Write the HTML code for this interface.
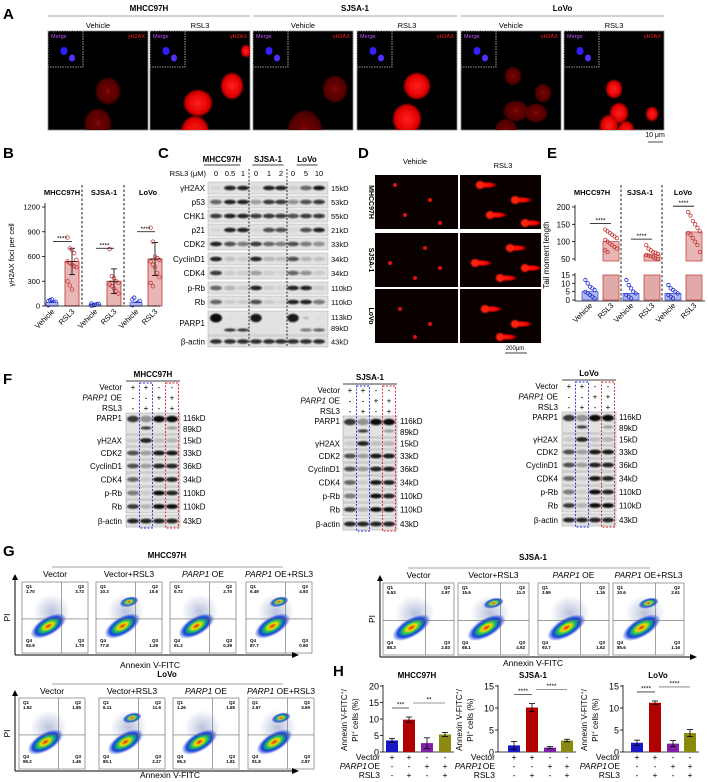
<!DOCTYPE html>
<html><head><meta charset="utf-8">
<style>
html,body{margin:0;padding:0;background:#fff;}
svg{display:block;font-family:"Liberation Sans",Arial,sans-serif;}
</style></head>
<body>
<svg id="fig" width="708" height="782" viewBox="0 0 708 782" xmlns="http://www.w3.org/2000/svg">
<defs id="defs">
<radialGradient id="nucBright"><stop offset="0" stop-color="#ff2020"/><stop offset="0.8" stop-color="#e00000"/><stop offset="1" stop-color="#900000"/></radialGradient>
<radialGradient id="nucDim"><stop offset="0" stop-color="#7a0808"/><stop offset="1" stop-color="#4a0000"/></radialGradient>
<radialGradient id="blob"><stop offset="0" stop-color="#e02000"/><stop offset="0.25" stop-color="#f0e000"/><stop offset="0.45" stop-color="#20c060"/><stop offset="0.7" stop-color="#1040e0"/><stop offset="1" stop-color="#2040d0" stop-opacity="0"/></radialGradient>
<radialGradient id="haze"><stop offset="0" stop-color="#8090c0" stop-opacity="0.55"/><stop offset="1" stop-color="#8090c0" stop-opacity="0"/></radialGradient>
<radialGradient id="comet"><stop offset="0" stop-color="#ff2010"/><stop offset="0.6" stop-color="#e00000"/><stop offset="1" stop-color="#800000" stop-opacity="0"/></radialGradient>
<filter id="bl" x="-50%" y="-50%" width="200%" height="200%"><feGaussianBlur stdDeviation="0.9"/></filter>
</defs>
</svg>
<script>
// ---------- data ----------
const cellLines = ["MHCC97H","SJSA-1","LoVo"];
// B: γH2AX foci per cell
const bVehicleMeans = [40, 15, 40];
const bRsl3Means = [540, 300, 570];
const bRsl3Sd = [160, 150, 200];
const bRsl3Dots = [
  [830,700,680,640,560,540,520,500,480,470,300,250,200],
  [690,360,340,300,280,260,240,210,180,150],
  [950,780,600,580,560,540,500,470,400,350,280,240]
];
const bVehDots = [[10,20,30,40,50,60,70,80],[5,10,15,20,25,30],[10,20,30,40,60,80,100]];
const bTicks = [0,300,600,900,1200];
// E: tail moment length
const eVehicleMeans = [5, 4, 4];
const eRsl3Means = [100, 62, 128];
const eRsl3Dots = [[135,130,125,120,115,110,105,100,95,90,85,80,75,70],[90,80,75,70,68,65,62,60,58,55,52,50],[185,175,160,150,140,130,125,120,110,100,90,70]];
const eVehDots = [[12,10,8,7,6,5,4,3,2,1],[12,9,7,5,4,3,2,1],[9,7,6,5,4,3,2,1]];
const eTicksUpper = [50,100,150,200];
const eTicksLower = [0,5,10,15];
// H: Annexin V-FITC+/PI+ cells (%)
const hCategories = ["Vector","Vector+RSL3","PARP1 OE","PARP1 OE+RSL3"];
const hValues = [[3.5,9.8,2.7,5.3],[1.5,10.1,1.0,2.6],[2.1,11.2,1.9,4.3]];
const hErrors = [[0.6,0.8,1.6,0.6],[0.9,0.9,0.25,0.3],[0.6,0.4,0.7,0.8]];
const hMax = [20,15,15];
const hTicks = [[0,5,10,15,20],[0,5,10,15],[0,5,10,15]];
const hSig = [["***","**"],["****","****"],["****","****"]];
// G: flow quadrant values [Q1,Q2,Q3,Q4]
const gQuads = {
 "MHCC97H":[["1.70","3.72","1.70","92.9"],["10.3","10.6","1.29","77.8"],["5.72","2.70","0.39","91.2"],["6.49","4.93","0.90","87.7"]],
 "SJSA-1":[["6.53","2.97","2.83","88.3"],["15.6","11.0","4.92","68.1"],["3.59","1.16","1.62","93.7"],["10.6","2.61","1.16","85.6"]],
 "LoVo":[["1.52","1.85","1.46","95.2"],["6.11","11.6","2.27","80.1"],["1.26","1.65","1.81","95.3"],["2.67","3.69","2.87","91.8"]]
};
// C: blot band intensities
const cRows = ["γH2AX","p53","CHK1","p21","CDK2","CyclinD1","CDK4","p-Rb","Rb","PARP1","β-actin"];
const cKd = ["15kD","53kD","55kD","21kD","33kD","34kD","34kD","110kD","110kD","113kD","43kD"];
const cInt = [
 [0.05,0.9,0.9,0.05,0.9,0.9,0.1,0.6,0.95],
 [0.6,0.9,0.9,0.3,0.8,0.8,0.4,0.7,0.8],
 [0.8,0.9,0.9,0.8,0.8,0.8,0.7,0.8,0.8],
 [0.05,0.9,0.9,0.05,0.7,0.7,0.05,0.7,0.9],
 [0.9,0.7,0.5,0.8,0.6,0.5,0.7,0.5,0.4],
 [0.9,0.15,0.1,0.9,0.2,0.15,0.7,0.2,0.15],
 [0.8,0.1,0.1,0.3,0.1,0.05,0.6,0.4,0.1],
 [0.6,0.2,0.1,0.9,0.1,0.05,0.9,0.9,0.1],
 [0.6,0.1,0.1,0.7,0.1,0.05,0.9,0.9,0.5],
 [1,0.05,0.05,0.95,0,0,0.95,0.2,0.05],
 [0.85,0.85,0.85,0.85,0.85,0.85,0.85,0.85,0.85]
];
const cParpLower = [0,0.8,0.8,0,0.5,0.3,0,0.5,0.6];
const cDoses = ["0","0.5","1","0","1","2","0","5","10"];
// F: blot band intensities
const fRows = ["PARP1","γH2AX","CDK2","CyclinD1","CDK4","p-Rb","Rb","β-actin"];
const fKd = ["15kD","33kD","36kD","34kD","110kD","110kD","43kD"];
const fInt = [[0.8,0.4,1,1],[0.1,0.9,0.15,0.2],[0.7,0.3,0.95,0.95],[0.7,0.3,0.9,0.9],[0.6,0.1,0.95,0.9],[0.5,0.1,1,0.9],[0.8,0.2,1,1],[0.9,0.9,0.9,0.9]];
const fParpLower = [0,0.8,0,0.3];

// ---------- helpers ----------
const svg = document.getElementById('fig');
const defs = document.getElementById('defs');
const NS = "http://www.w3.org/2000/svg";
function mk(tag, attrs, name, parent){
  const el = document.createElementNS(NS, tag);
  for (const k in attrs) el.setAttribute(k, attrs[k]);
  
  
  (parent||svg).appendChild(el);
  return el;
}
function txt(x,y,s,size,name,o){
  o=o||{};
  const a={x:x,y:y,'font-size':size,fill:o.fill||'#000','text-anchor':o.anchor||'middle'};
  if(o.bold) a['font-weight']='bold';
  if(o.italic) a['font-style']='italic';
  if(o.rot!==undefined) a.transform='rotate('+o.rot+' '+x+' '+y+')';
  const el=mk('text',a,name);
  el.textContent=s;
  return el;
}
function line(x1,y1,x2,y2,name,o){
  o=o||{};
  return mk('line',{x1:x1,y1:y1,x2:x2,y2:y2,stroke:o.stroke||'#000','stroke-width':o.w||0.8,'stroke-dasharray':o.dash||'none'},name);
}
function rect(x,y,w,h,name,o){
  o=o||{};
  return mk('rect',{x:x,y:y,width:w,height:h,fill:o.fill||'none',stroke:o.stroke||'none','stroke-width':o.w||0.8,'stroke-dasharray':o.dash||'none'},name);
}
let clipN=0;
function clipGroup(x,y,w,h,name){
  const id='clip'+(clipN++);
  const cp=mk('clipPath',{id:id},'clip-region',defs);
  mk('rect',{x:x,y:y,width:w,height:h},'clip-rect',cp);
  return mk('g',{'clip-path':'url(#'+id+')'},name);
}
function panelLabel(x,y,s){ txt(x,y,s,15,'panel-label-'+s.toLowerCase(),{bold:true,anchor:'start'}); }

// ---------- Panel A ----------
panelLabel(3,19,'A');
const aLeft=[48,150,253,357,461,564];
cellLines.forEach((c,i)=>{
  const x0=aLeft[i*2], x1=aLeft[i*2+1]+100;
  txt((x0+x1)/2,11,c,8,'a-title-'+c.toLowerCase(),{bold:true});
  line(x0,16,x1,16,'a-title-rule',{stroke:'#888'});
});
const aNuclei=[
 [[60,60,12,13],[50,92,13,14]],
 [[48,72,14,13],[45,102,14,17],[82,55,11,13],[96,20,5,6]],
 [[52,100,17,20],[82,58,12,13]],
 [[60,55,13,13],[50,88,14,15]],
 [[55,80,12,10],[45,100,11,12],[75,82,11,9],[52,45,8,9],[82,62,8,9]],
 [[50,58,8,9],[55,82,9,10],[45,95,9,11],[62,100,8,10],[88,83,6,7]]
];
aLeft.forEach((x,i)=>{
  const rsl=i%2===1;
  txt(x+50,28,rsl?'RSL3':'Vehicle',7.5,rsl?'a-rsl3-label':'a-vehicle-label');
  rect(x,31,100,99,'a-if-image',{fill:'#000',stroke:'#888'});
  const g=clipGroup(x,31,100,99,'a-image-content');
  aNuclei[i].forEach(n=>{
    mk('ellipse',{cx:x+n[0],cy:31+n[1],rx:n[2],ry:n[3],fill:rsl?'url(#nucBright)':'url(#nucDim)',filter:'url(#bl)'},'a-nucleus',g);
  });
  rect(x,31,35,36,'a-merge-inset',{fill:'#000',stroke:'#ccc',dash:'1.5 1'});
  txt(x+3,38,'Merge',5.5,'a-merge-label',{fill:'#c050ff',anchor:'start'});
  mk('ellipse',{cx:x+16,cy:51,rx:3.5,ry:4,fill:'#3020ff'},'a-merge-nucleus');
  mk('ellipse',{cx:x+24,cy:58,rx:3,ry:3.5,fill:'#5030ff'},'a-merge-nucleus');
  txt(x+97,38,'γH2AX',5.5,'a-gh2ax-label',{fill:'#ff2020',anchor:'end'});
});
txt(655,137,'10 μm',7,'a-scale-label');
line(648,142,663,142,'a-scale-bar',{stroke:'#888',w:1.5});

// ---------- Panel B ----------
panelLabel(3,158,'B');
const bY = v => 306 - v/1200*99;
const bVehX=[52,95,136], bRslX=[72,114,155];
line(45,203,45,306,'b-y-axis');
bTicks.forEach(t=>{ line(42,bY(t),45,bY(t),'b-y-tick'); txt(40,bY(t)+2.5,String(t),7.5,'b-y-tick-label',{anchor:'end'}); });
txt(14,255,'γH2AX foci per cell',7.5,'b-y-axis-title',{rot:-90});
[82,124].forEach(x=>line(x,185,x,306,'b-divider',{dash:'2.5 2',w:0.9}));
cellLines.forEach((c,i)=>{
  const ttlX=[62,104,148][i];
  txt(ttlX,195,c,7.5,'b-title-'+c.toLowerCase(),{bold:true});
  mk('rect',{x:bRslX[i]-7,y:bY(bRsl3Means[i]),width:14,height:306-bY(bRsl3Means[i]),fill:'#e8b7b5',stroke:'#c03030','stroke-width':0.8},'b-bar-rsl3');
  line(bRslX[i],bY(bRsl3Means[i]-bRsl3Sd[i]),bRslX[i],bY(bRsl3Means[i]+bRsl3Sd[i]),'b-error-bar');
  line(bRslX[i]-3,bY(bRsl3Means[i]+bRsl3Sd[i]),bRslX[i]+3,bY(bRsl3Means[i]+bRsl3Sd[i]),'b-error-cap');
  line(bRslX[i]-3,bY(bRsl3Means[i]-bRsl3Sd[i]),bRslX[i]+3,bY(bRsl3Means[i]-bRsl3Sd[i]),'b-error-cap');
  line(bRslX[i]-5,bY(bRsl3Means[i]),bRslX[i]+5,bY(bRsl3Means[i]),'b-mean-line');
  bRsl3Dots[i].forEach((v,k)=>mk('circle',{cx:bRslX[i]+((k%5)-2)*2.2,cy:bY(v),r:1.8,fill:'none',stroke:'#c03030','stroke-width':0.7},'b-dot-rsl3'));
  bVehDots[i].forEach((v,k)=>mk('circle',{cx:bVehX[i]+((k%5)-2)*1.8,cy:bY(v),r:1.8,fill:'none',stroke:'#2030d0','stroke-width':0.8},'b-dot-vehicle'));
  mk('rect',{x:bVehX[i]-6,y:bY(bVehicleMeans[i]),width:12,height:306-bY(bVehicleMeans[i]),fill:'#b0b8f0',stroke:'#2030d0','stroke-width':0.6},'b-bar-vehicle');
  const sy=bY(bRsl3Means[i]+bRsl3Sd[i]+[80,250,130][i]);
  line(bVehX[i]+1,sy,bRslX[i],sy,'b-sig-line');
  txt((bVehX[i]+bRslX[i])/2,sy-1,'****',6.5,'b-sig-stars');
  txt(bVehX[i]+3,312,'Vehicle',7.5,'b-x-label',{anchor:'end',rot:-45});
  txt(bRslX[i]+3,312,'RSL3',7.5,'b-x-label',{anchor:'end',rot:-45});
});
line(45,306,160,306,'b-x-axis');

// ---------- Panel C ----------
panelLabel(158,158,'C');
const cLanes=[216,230,243,256,269,281,293,306,319];
[['MHCC97H',222],['SJSA-1',268],['LoVo',307]].forEach(p=>{
  txt(p[1],162,p[0],8,'c-title-'+p[0].toLowerCase(),{bold:true});
  const w=p[0].length*5.2; line(p[1]-w/2,165,p[1]+w/2,165,'c-title-underline');
});
txt(206,176,'RSL3 (μM)',7.5,'c-dose-title',{anchor:'end'});
cDoses.forEach((d,i)=>txt(cLanes[i],176,d,7.5,'c-dose-label'));
const cTop=[182,196,210,224,238,253,267,282,296,311,336], cH=[12,12,12,12,12,12,12,12,12,24,11];
cRows.forEach((r,ri)=>{
  const y=cTop[ri],h=cH[ri];
  rect(208,y,120,h,'c-blot-strip',{fill:'#e2e2e2',stroke:'#aaa',w:0.5});
  txt(205,y+h/2+3,r,8,'c-row-label-'+r.toLowerCase(),{anchor:'end'});
  const yb = ri===9 ? y+7 : y+h/2;
  cLanes.forEach((x,li)=>{
    const v=cInt[ri][li]; if(v<=0) return;
    mk('ellipse',{cx:x,cy:yb,rx:ri===9?6*Math.max(v,0.5):6,ry:ri===9?4*v+0.5:2.3,fill:'#111','fill-opacity':v,filter:'url(#bl)'},'c-band');
    if(ri===9 && cParpLower[li]>0) mk('ellipse',{cx:x,cy:y+19,rx:6,ry:1.6,fill:'#111','fill-opacity':cParpLower[li],filter:'url(#bl)'},'c-band-cleaved');
  });
  if(ri===9){ txt(331,y+9,'113kD',7.5,'c-kd-label',{anchor:'start'}); txt(331,y+20,'89kD',7.5,'c-kd-label',{anchor:'start'}); }
  else txt(331,y+h/2+3,cKd[ri],7.5,'c-kd-label',{anchor:'start'});
});
[249,287].forEach(x=>line(x,169,x,347,'c-divider',{dash:'2 1.5',w:0.8}));

// ---------- Panel D ----------
panelLabel(358,158,'D');
txt(415,164,'Vehicle',7.5,'d-vehicle-label');
txt(503,168,'RSL3',7.5,'d-rsl3-label');
const dRows=[['MHCC97H',175],['SJSA-1',233],['LoVo',289]];
const dComets=[[[20,10],[55,25],[30,40],[65,48]],[[15,30],[50,15],[40,45],[65,35]],[[25,20],[55,35],[40,48]]];
dRows.forEach((r,i)=>{
  txt(369,r[1]+27,r[0],7,'d-row-label',{bold:true,rot:90});
  rect(375,r[1],83,54,'d-vehicle-image',{fill:'#0a0000'});
  rect(460,r[1],81,54,'d-rsl3-image',{fill:'#0a0000'});
  dComets[i].forEach(c=>mk('circle',{cx:375+c[0],cy:r[1]+c[1],r:2,fill:'#e01010'},'d-comet-head'));
  const g=clipGroup(460,r[1],81,54,'d-rsl3-content');
  dComets[i].forEach(c=>{
    mk('ellipse',{cx:460+c[0]+6,cy:r[1]+c[1],rx:12,ry:3.5,fill:'url(#comet)'},'d-comet-tail',g);
    mk('circle',{cx:460+c[0],cy:r[1]+c[1],r:4,fill:'#ff2010',filter:'url(#bl)'},'d-comet-head',g);
  });
});
txt(515,350,'200μm',6,'d-scale-label');
line(505,353,527,353,'d-scale-bar');

// ---------- Panel E ----------
panelLabel(547,158,'E');
const eYU = v => 259 - (v-50)*52/150;
const eYL = v => 300 - v*25/15;
const eVehX=[590,631,673], eRslX=[611,652,694];
line(575,205,575,261,'e-y-axis-upper');
line(575,273,575,301,'e-y-axis-lower');
eTicksUpper.forEach(t=>{line(572,eYU(t),575,eYU(t),'e-y-tick');txt(570,eYU(t)+3,String(t),8,'e-y-tick-label',{anchor:'end'});});
eTicksLower.forEach(t=>{line(572,eYL(t),575,eYL(t),'e-y-tick');txt(570,eYL(t)+3,String(t),8,'e-y-tick-label',{anchor:'end'});});
txt(549,255,'Tail moment length',8,'e-y-axis-title',{rot:-90});
[621,662].forEach(x=>line(x,185,x,301,'e-divider',{dash:'2.5 2',w:0.9}));
cellLines.forEach((c,i)=>{
  txt([592,640,683][i],195,c,7.5,'e-title-'+c.toLowerCase(),{bold:true});
  mk('rect',{x:eRslX[i]-8,y:eYU(eRsl3Means[i]),width:16,height:261-eYU(eRsl3Means[i]),fill:'#e8b7b5',stroke:'#c03030','stroke-width':0.7},'e-bar-rsl3-upper');
  mk('rect',{x:eRslX[i]-8,y:275,width:16,height:25,fill:'#e0aaa8',stroke:'#c03030','stroke-width':0.7},'e-bar-rsl3-lower');
  eRsl3Dots[i].forEach((v,k)=>mk('circle',{cx:eRslX[i]+((k%6)-2.5)*2.3,cy:eYU(v),r:1.7,fill:'none',stroke:'#c03030','stroke-width':0.7},'e-dot-rsl3'));
  mk('rect',{x:eVehX[i]-8,y:eYL(eVehicleMeans[i]),width:16,height:300-eYL(eVehicleMeans[i]),fill:'#b0b8f0',stroke:'#2030d0','stroke-width':0.6},'e-bar-vehicle');
  eVehDots[i].forEach((v,k)=>mk('circle',{cx:eVehX[i]+((k%5)-2)*2.3,cy:eYL(v),r:1.7,fill:'none',stroke:'#2030d0','stroke-width':0.8},'e-dot-vehicle'));
  const sy=eYU(Math.max(...eRsl3Dots[i]))-6;
  line(eVehX[i],sy,eRslX[i],sy,'e-sig-line');
  txt((eVehX[i]+eRslX[i])/2,sy-1,'****',6.5,'e-sig-stars');
  txt(eVehX[i]+3,306,'Vehicle',7.5,'e-x-label',{anchor:'end',rot:-45});
  txt(eRslX[i]+3,306,'RSL3',7.5,'e-x-label',{anchor:'end',rot:-45});
});
line(575,301,705,301,'e-x-axis');

// ---------- Panel F ----------
panelLabel(3,384,'F');
const fGroups=[['MHCC97H',126,0,122],['SJSA-1',343,3,340],['LoVo',562,-1,558]];
const fSign=[['+','+','-','-'],['-','-','+','+'],['-','+','-','+']];
fGroups.forEach(g=>{
  const [name,bx,dy,lx]=g;
  const lanes=[bx+7,bx+20,bx+33,bx+46];
  txt(bx+27,377+dy,name,8,'f-title-'+name.toLowerCase(),{bold:true});
  line(bx,381+dy,bx+54,381+dy,'f-title-rule');
  ['Vector','PARP1 OE','RSL3'].forEach((lab,k)=>{
    const y=390+dy+k*10.5;
    txt(lx,y,lab==='PARP1 OE'?' OE':lab,8,'f-cond-label',{anchor:'end'});
    if(lab==='PARP1 OE') txt(lx-14,y,'PARP1',8,'f-cond-label-gene',{anchor:'end',italic:true});
    lanes.forEach((x,li)=>txt(x,y,fSign[k][li],8,'f-sign'));
  });
  const tops=[413,435,447,460,473,487,500,515], hs=[21,11,12,12,13,12,13,12];
  fRows.forEach((r,ri)=>{
    const y=tops[ri]+dy,h=hs[ri];
    rect(bx,y,54,h,'f-blot-strip',{fill:'#e2e2e2',stroke:'#999',w:0.5});
    txt(lx,y+(ri===0?8:h/2+3),r,8,'f-row-label',{anchor:'end'});
    lanes.forEach((x,li)=>{
      const v=fInt[ri][li];
      mk('ellipse',{cx:x,cy:ri===0?y+6:y+h/2,rx:6,ry:ri===0?3.2:2.4,fill:'#111','fill-opacity':v,filter:'url(#bl)'},'f-band');
      if(ri===0 && fParpLower[li]>0) mk('ellipse',{cx:x,cy:y+15,rx:5.5,ry:1.6,fill:'#111','fill-opacity':fParpLower[li],filter:'url(#bl)'},'f-band-cleaved');
    });
  });
  txt(bx+57,421+dy,'116kD',8,'f-kd-label',{anchor:'start'});
  txt(bx+57,432+dy,'89kD',8,'f-kd-label',{anchor:'start'});
  fKd.forEach((k,ki)=>txt(bx+57,tops[ki+1]+dy+hs[ki+1]/2+3,k,8,'f-kd-label',{anchor:'start'}));
  rect(lanes[1]-6.5,383+dy,13,145,'f-highlight-rsl3',{stroke:'#2030e0',dash:'2 1.5',w:0.9});
  rect(lanes[3]-6.5,383+dy,13,145,'f-highlight-parp1-rsl3',{stroke:'#e02020',dash:'2 1.5',w:0.9});
});

// ---------- Panel G ----------
panelLabel(3,556,'G');
const gGroups=[
 {name:'MHCC97H',title:[167,558],rule:[52,283,567],sub:577,lefts:[22,96,170,246],w:66,top:582,h:71,ax:15,axEnd:292,ann:[150,668]},
 {name:'SJSA-1',title:[533,560],rule:[408,650,568],sub:578,lefts:[383,458,538,613],w:71,top:583,h:72,ax:380,axEnd:690,ann:[533,666]},
 {name:'LoVo',title:[167,677],rule:[52,283,684],sub:694,lefts:[19,99,173,248],w:66,top:698,h:71,ax:15,axEnd:292,ann:[170,778]}
];
gGroups.forEach(g=>{
  txt(g.title[0],g.title[1],g.name,8,'g-title-'+g.name.toLowerCase(),{bold:true});
  line(g.rule[0],g.rule[2],g.rule[1],g.rule[2],'g-title-rule',{stroke:'#888'});
  hCategories.forEach((c,i)=>{
    const x=g.lefts[i]+g.w/2;
    if(c.startsWith('PARP1')){
      const e=txt(x,g.sub,'',8.5,'g-condition-label');
      const t1=document.createElementNS(NS,'tspan'); t1.setAttribute('font-style','italic'); t1.textContent='PARP1'; e.appendChild(t1);
      const t2=document.createElementNS(NS,'tspan'); t2.textContent=c.slice(5); e.appendChild(t2);
    } else txt(x,g.sub,c,8.5,'g-condition-label');
    const L=g.lefts[i],T=g.top,W=g.w,H=g.h;
    rect(L,T,W,H,'g-flow-plot',{fill:'#fff',stroke:'#777',w:0.7});
    const rsl = i%2===1;
    if(rsl) mk('ellipse',{cx:L+W*0.5,cy:T+H*0.28,rx:W*0.15,ry:H*0.07,fill:'url(#blob)',transform:'rotate(-15 '+(L+W*0.5)+' '+(T+H*0.28)+')'},'g-upper-population');
    mk('ellipse',{cx:L+W*0.45,cy:T+H*0.42,rx:W*0.28,ry:H*0.25,fill:'url(#haze)'},'g-scatter-haze');
    mk('ellipse',{cx:L+W*0.4,cy:T+H*0.62,rx:W*0.3,ry:H*0.13,fill:'url(#blob)',transform:'rotate(-30 '+(L+W*0.4)+' '+(T+H*0.62)+')'},'g-main-population');
    line(L+W*0.6,T,L+W*0.6,T+H,'g-quadrant-v',{stroke:'#666',w:0.6});
    line(L,T+H*0.52,L+W,T+H*0.52,'g-quadrant-h',{stroke:'#666',w:0.6});
    const q=gQuads[g.name][i];
    txt(L+4,T+6,'Q1',4.5,'g-q-label',{anchor:'start',bold:true}); txt(L+4,T+11,q[0],4.5,'g-q-value',{anchor:'start',bold:true});
    txt(L+W-4,T+6,'Q2',4.5,'g-q-label',{anchor:'end',bold:true}); txt(L+W-4,T+11,q[1],4.5,'g-q-value',{anchor:'end',bold:true});
    txt(L+W-4,T+H-11,'Q3',4.5,'g-q-label',{anchor:'end',bold:true}); txt(L+W-4,T+H-6,q[2],4.5,'g-q-value',{anchor:'end',bold:true});
    txt(L+4,T+H-11,'Q4',4.5,'g-q-label',{anchor:'start',bold:true}); txt(L+4,T+H-6,q[3],4.5,'g-q-value',{anchor:'start',bold:true});
  });
  const by=g.top+g.h+2;
  line(g.ax,by,g.ax,g.top-4,'g-y-arrow-axis',{w:1});
  mk('polygon',{points:(g.ax-3)+','+(g.top-2)+' '+(g.ax+3)+','+(g.top-2)+' '+g.ax+','+(g.top-8),fill:'#000'},'g-y-arrowhead');
  line(g.ax,by,g.axEnd,by,'g-x-arrow-axis',{w:1});
  mk('polygon',{points:g.axEnd+','+(by-3)+' '+g.axEnd+','+(by+3)+' '+(g.axEnd+7)+','+by,fill:'#000'},'g-x-arrowhead');
  txt(g.ax-5,g.top+g.h/2,'PI',8.5,'g-y-axis-title',{rot:-90});
  txt(g.ann[0],g.ann[1],'Annexin V-FITC',8.5,'g-x-axis-title');
});

// ---------- Panel H ----------
panelLabel(333,676,'H');
const hColors=['#1818c8','#b00000','#8020a8','#8a8a10'];
const hAxes=[383,498,623], hTitles=[417,533,658];
const hBarX=[[392,409,427,445],[514,532,550,567],[637,655,673,690]];
const hY0=752, hTop=686;
cellLines.forEach((c,ci)=>{
  const yS=v=>hY0-v/hMax[ci]*(hY0-hTop);
  txt(hTitles[ci],678,c,8,'h-title-'+c.toLowerCase(),{bold:true});
  line(hAxes[ci],hTop-1,hAxes[ci],hY0,'h-y-axis');
  line(hAxes[ci],hY0,hBarX[ci][3]+9,hY0,'h-x-axis');
  hTicks[ci].forEach(t=>{line(hAxes[ci]-3,yS(t),hAxes[ci],yS(t),'h-y-tick');txt(hAxes[ci]-4,yS(t)+3.5,String(t),9,'h-y-tick-label',{anchor:'end'});});
  const ax1=hAxes[ci]-36, ax2=hAxes[ci]-25;
  const e1=txt(ax1,720,'Annexin V-FITC',8,'h-y-axis-title',{rot:-90});
  const s1=document.createElementNS(NS,'tspan'); s1.setAttribute('baseline-shift','super'); s1.setAttribute('font-size','5'); s1.textContent='+'; e1.appendChild(s1);
  const s1b=document.createElementNS(NS,'tspan'); s1b.textContent='/'; e1.appendChild(s1b);
  const e2=txt(ax2,720,'PI',8,'h-y-axis-title',{rot:-90});
  const s2=document.createElementNS(NS,'tspan'); s2.setAttribute('baseline-shift','super'); s2.setAttribute('font-size','5'); s2.textContent='+'; e2.appendChild(s2);
  const s2b=document.createElementNS(NS,'tspan'); s2b.textContent=' cells (%)'; e2.appendChild(s2b);
  hValues[ci].forEach((v,bi)=>{
    const x=hBarX[ci][bi];
    mk('rect',{x:x-6,y:yS(v),width:12,height:hY0-yS(v),fill:hColors[bi]},'h-bar-'+bi);
    const er=hErrors[ci][bi];
    line(x,yS(v-er),x,yS(v+er),'h-error-bar');
    line(x-3,yS(v+er),x+3,yS(v+er),'h-error-cap');
    line(x-3,yS(v-er),x+3,yS(v-er),'h-error-cap');
  });
  const s1y=yS(hValues[ci][1]+hErrors[ci][1])-9, s2y=s1y-5;
  line(hBarX[ci][0],s1y,hBarX[ci][1],s1y,'h-sig-line',{stroke:'#333'});
  txt((hBarX[ci][0]+hBarX[ci][1])/2,s1y-1.5,hSig[ci][0],6.5,'h-sig-stars');
  line(hBarX[ci][1]+4,s2y,hBarX[ci][3],s2y,'h-sig-line',{stroke:'#777'});
  txt((hBarX[ci][1]+hBarX[ci][3])/2+2,s2y-1.5,hSig[ci][1],6.5,'h-sig-stars');
  const rows=[['Vector',['+','+','-','-'],760],['OE',['-','-','+','+'],769],['RSL3',['-','+','-','+'],778]];
  rows.forEach(r=>{
    txt(hAxes[ci]-3,r[2],r[0]==='OE'?' OE':r[0],8.5,'h-cond-label',{anchor:'end'});
    if(r[0]==='OE') txt(hAxes[ci]-16,r[2],'PARP1',8.5,'h-cond-label-gene',{anchor:'end',italic:true});
    r[1].forEach((s,k)=>txt(hBarX[ci][k],r[2],s,8.5,'h-sign'));
  });
});
</script>
</body></html>
